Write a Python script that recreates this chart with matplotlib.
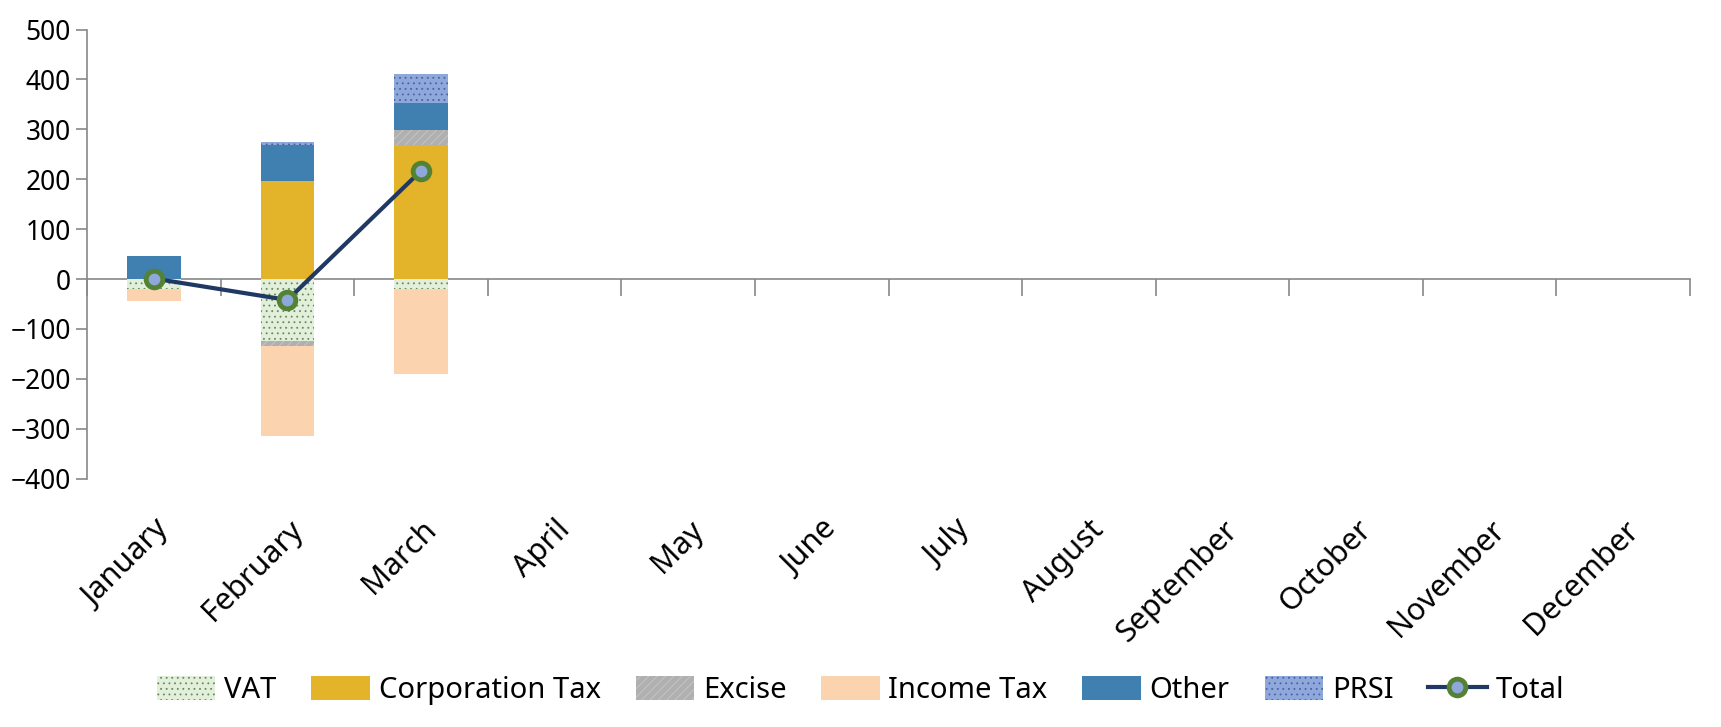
import numpy as np
import matplotlib.pyplot as plt
import matplotlib as mpl

plt.rcParams['font.family'] = ['Noto Sans', 'DejaVu Sans']
mpl.rcParams['hatch.linewidth'] = 0.6

months = ["January", "February", "March", "April", "May", "June", "July",
          "August", "September", "October", "November", "December"]

# monthly values (only first three months filled in)
vat = [-20, -125, -19]
corp_tax = [0, 197, 269]
excise = [0, -10, 30]
income_tax = [-25, -179, -171]
other = [47, 71, 53]
prsi = [0, 7, 59]
total = [1, -42, 217]

series = [
    ("VAT", vat, "#e2efda", "...", "#6a8a5a"),
    ("Corporation Tax", corp_tax, "#e3b42a", None, None),
    ("Excise", excise, "#b0b0b0", "////", "#c8c8c8"),
    ("Income Tax", income_tax, "#fbd3ae", None, None),
    ("Other", other, "#3f80b0", None, None),
    ("PRSI", prsi, "#8fa8dc", "...", "#4a62a0"),
]

fig = plt.figure(figsize=(17.21, 7.27), dpi=100)
ax = fig.add_axes([0.0506, 0.3417, 0.9314, 0.6176])

x = np.arange(len(vat))
pos_base = np.zeros(len(x))
neg_base = np.zeros(len(x))
handles = []
for name, vals, col, hatch, hcol in series:
    v = np.array(vals, dtype=float)
    base = np.where(v >= 0, pos_base, neg_base)
    bars = ax.bar(x, v, bottom=base, width=0.4, color=col, label=name,
                  hatch=hatch, edgecolor=hcol if hcol else col, linewidth=0)
    handles.append(bars)
    pos_base = pos_base + np.where(v >= 0, v, 0)
    neg_base = neg_base + np.where(v < 0, v, 0)

line, = ax.plot(x, total, color="#1f3864", lw=3, marker="o", ms=12,
                mfc="#8fa8dc", mec="#548235", mew=3.5, label="Total", zorder=5)
handles.append(line)

ax.set_xlim(-0.5, 11.5)
ax.set_ylim(-400, 500)
ax.set_yticks(np.arange(-400, 501, 100))
ax.tick_params(axis="y", labelsize=19, length=8, color="#888888", width=1.2)
for s in ["top", "right", "bottom"]:
    ax.spines[s].set_visible(False)
ax.spines["left"].set_color("#888888")
ax.spines["left"].set_linewidth(1.2)

ax.set_xticks(np.arange(12))
ax.set_xticklabels(months, rotation=45, ha="right", rotation_mode="anchor",
                   fontsize=22)
ax.tick_params(axis="x", length=0, pad=26)

# zero line with category boundary ticks
zero = ax.secondary_xaxis(400 / 900)
zero.set_xticks(np.arange(-0.5, 12, 1))
zero.tick_params(axis="x", length=12, color="#888888", width=1.2,
                 labelbottom=False)
zero.spines["bottom"].set_color("#888888")
zero.spines["bottom"].set_linewidth(1.2)

fig.legend(handles=handles, loc="center", bbox_to_anchor=(0.5, 0.05),
           ncol=7, frameon=False, fontsize=21, handlelength=2.0,
           handleheight=0.9, columnspacing=1.2, handletextpad=0.3)

fig.savefig("out.png", dpi=100)
